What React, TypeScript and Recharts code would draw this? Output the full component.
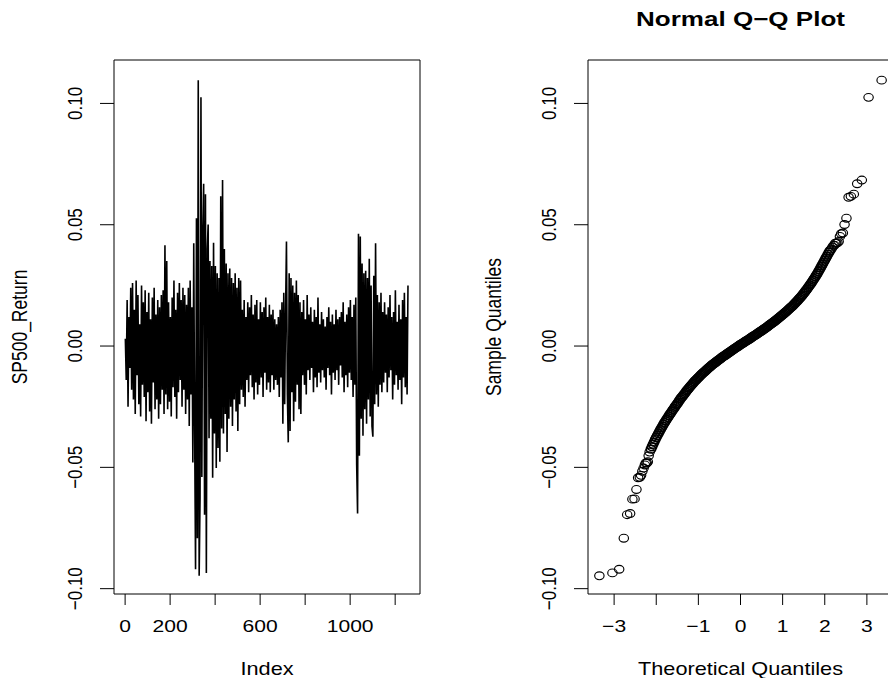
import React from 'react';
import {
  LineChart,
  Line,
  ScatterChart,
  Scatter,
  XAxis,
  YAxis,
  ReferenceArea,
} from 'recharts';

// R base graphics look: Helvetica-like text, slightly stretched horizontally
const FONT = '"Liberation Sans", Arial, Helvetica, sans-serif';
const STRETCH = 1.24;

// Daily SP500 log returns, one reading every 4th trading day (index 1, 5, 9, ...)
const RETURN_STEP = 4;
const returns = [
  0.003, -0.014, 0.019, -0.025, 0.012, -0.009, 0.024, -0.018, 0.026, -0.022,
  0.015, -0.028, 0.027, -0.012, 0.021, -0.024, 0.009, -0.029, 0.025, -0.016,
  0.018, -0.021, 0.023, -0.031, 0.014, -0.019, 0.022, -0.027, 0.011, -0.032,
  0.020, -0.015, 0.024, -0.026, 0.013, -0.022, 0.019, -0.030, 0.016, -0.024,
  0.021, -0.018, 0.023, -0.028, 0.0415, -0.020, 0.035, -0.026, 0.018, -0.023,
  0.012, -0.029, 0.020, -0.017, 0.027, -0.021, 0.015, -0.030, 0.022, -0.019,
  0.026, -0.014, 0.019, -0.025, 0.024, -0.018, 0.021, -0.028, 0.017, -0.022,
  0.024, -0.033, 0.027, -0.020, 0.016, -0.048, 0.0424, -0.035, -0.0920, 0.0527,
  -0.0792, 0.1096, -0.0947, -0.0630, 0.1025, -0.054, 0.047, 0.0669, -0.0695, 0.0626,
  -0.0935, 0.040, 0.0501, -0.038, 0.035, -0.030, 0.033, -0.0543, 0.0426, -0.036,
  0.033, -0.0503, 0.030, -0.042, 0.028, -0.0477, 0.0617, -0.034, 0.0684, -0.036,
  0.040, -0.028, 0.034, -0.0437, 0.030, -0.030, 0.032, -0.025, 0.028, -0.033,
  0.026, -0.022, 0.030, -0.027, 0.024, -0.035, 0.028, -0.024, 0.027, -0.018,
  0.015, -0.021, 0.019, -0.025, 0.012, -0.014, 0.018, -0.019, 0.016, -0.012,
  0.021, -0.017, 0.013, -0.022, 0.017, -0.015, 0.019, -0.020, 0.011, -0.016,
  0.018, -0.013, 0.014, -0.021, 0.016, -0.011, 0.020, -0.018, 0.012, -0.015,
  0.017, -0.019, 0.013, -0.012, 0.015, -0.018, 0.011, -0.014, 0.009, -0.016,
  0.012, -0.021, 0.015, -0.013, 0.018, -0.032, 0.022, -0.024, 0.014, 0.0431,
  -0.020, -0.0397, 0.030, -0.035, 0.028, -0.019, 0.025, -0.031, 0.022, -0.023,
  0.027, -0.016, 0.021, -0.026, 0.018, -0.028, 0.014, -0.012, 0.019, -0.016,
  0.011, -0.020, 0.021, -0.010, 0.013, -0.014, 0.016, -0.009, 0.010, -0.019,
  0.015, -0.013, 0.012, -0.017, 0.020, -0.011, 0.009, -0.015, 0.014, -0.010,
  0.011, -0.013, 0.008, -0.018, 0.012, -0.009, 0.016, -0.012, 0.010, -0.020,
  0.013, -0.011, 0.009, -0.014, 0.015, -0.010, 0.011, -0.016, 0.012, -0.008,
  0.014, -0.013, 0.018, -0.019, 0.010, -0.012, 0.013, -0.017, 0.016, -0.011,
  0.019, -0.014, 0.012, -0.021, 0.017, -0.016, 0.020, -0.049, -0.0690, 0.0463,
  -0.0452, 0.0452, -0.030, 0.034, -0.037, 0.030, -0.026, 0.031, -0.032, 0.028,
  -0.022, 0.036, -0.029, 0.025, -0.033, -0.0374, 0.029, -0.024, 0.0424, -0.020,
  0.021, -0.025, 0.018, -0.016, 0.022, -0.019, 0.014, -0.015, 0.018, -0.011,
  0.013, -0.019, 0.016, -0.013, 0.021, -0.010, 0.012, -0.022, 0.014, -0.016,
  0.023, -0.012, 0.010, -0.018, 0.017, -0.014, 0.011, -0.024, 0.019, -0.013,
  0.022, -0.017, 0.012, -0.020, 0.025,
];

const indexTicks = [0, 200, 400, 600, 800, 1000, 1200];
const indexLabels = [0, 200, 600, 1000];
const INDEX_DOMAIN: [number, number] = [-49.4, 1310.4];

const returnTicks = [-0.1, -0.05, 0, 0.05, 0.1];
const RETURN_DOMAIN: [number, number] = [-0.1022, 0.1179];

// Q-Q plot: tails point by point, dense middle read every 0.025 of a quantile
const qqLowerTheo = [
  -3.35, -3.04, -2.88, -2.77, -2.69, -2.62, -2.566, -2.515, -2.47, -2.43,
  -2.39, -2.36, -2.33, -2.30, -2.27, -2.248, -2.225, -2.20, -2.18, -2.157,
];
const qqLowerSample = [
  -0.0947, -0.0935, -0.0920, -0.0792, -0.0695, -0.0690, -0.0631, -0.0630, -0.0591, -0.0543,
  -0.0541, -0.0533, -0.0516, -0.0503, -0.0490, -0.0482, -0.0482, -0.0477, -0.0452, -0.0437,
];

const QQ_MID_START = -2.125;
const QQ_MID_STEP = 0.025;
const qqMidSample = [
  -0.0425, -0.0415, -0.0405, -0.0396, -0.0386, -0.0377, -0.0369, -0.0361, -0.0353, -0.0345,
  -0.0337, -0.0330, -0.0322, -0.0315, -0.0308, -0.0301, -0.0295, -0.0288, -0.0281, -0.0275,
  -0.0268, -0.0262, -0.0256, -0.0249, -0.0243, -0.0237, -0.0231, -0.0224, -0.0218, -0.0212,
  -0.0207, -0.0201, -0.0196, -0.0190, -0.0184, -0.0179, -0.0173, -0.0168, -0.0163, -0.0158,
  -0.0153, -0.0148, -0.0143, -0.0139, -0.0134, -0.0130, -0.0126, -0.0121, -0.0117, -0.0113,
  -0.0109, -0.0105, -0.0101, -0.0097, -0.0093, -0.0089, -0.0086, -0.0082, -0.0078, -0.0075,
  -0.0071, -0.0068, -0.0065, -0.0061, -0.0058, -0.0055, -0.0052, -0.0048, -0.0045, -0.0042,
  -0.0039, -0.0036, -0.0033, -0.0030, -0.0027, -0.0024, -0.0021, -0.0018, -0.0015, -0.0012,
  -0.0009, -0.0006, -0.0003, 0.0000, 0.0003, 0.0006, 0.0009, 0.0011, 0.0014, 0.0017,
  0.0020, 0.0022, 0.0025, 0.0028, 0.0031, 0.0034, 0.0037, 0.0040, 0.0043, 0.0045,
  0.0048, 0.0051, 0.0054, 0.0057, 0.0060, 0.0063, 0.0066, 0.0069, 0.0072, 0.0075,
  0.0078, 0.0081, 0.0085, 0.0088, 0.0091, 0.0094, 0.0098, 0.0101, 0.0104, 0.0108,
  0.0111, 0.0115, 0.0118, 0.0122, 0.0125, 0.0129, 0.0133, 0.0137, 0.0140, 0.0144,
  0.0148, 0.0152, 0.0156, 0.0160, 0.0164, 0.0168, 0.0173, 0.0177, 0.0182, 0.0186,
  0.0191, 0.0196, 0.0201, 0.0206, 0.0211, 0.0217, 0.0222, 0.0228, 0.0234, 0.0240,
  0.0246, 0.0252, 0.0258, 0.0265, 0.0272, 0.0278, 0.0285, 0.0292, 0.0299, 0.0307,
  0.0314, 0.0322, 0.0330, 0.0338, 0.0346, 0.0354, 0.0362, 0.0370, 0.0378, 0.0386,
  0.0393,
];

const qqUpperTheo = [
  2.157, 2.185, 2.21, 2.23, 2.248, 2.27, 2.30, 2.33, 2.36, 2.39,
  2.43, 2.47, 2.515, 2.566, 2.62, 2.69, 2.77, 2.88, 3.04, 3.35,
];
const qqUpperSample = [
  0.0400, 0.0408, 0.0415, 0.0416, 0.0424, 0.0424, 0.0426, 0.0431, 0.0452, 0.0463,
  0.0466, 0.0501, 0.0527, 0.0613, 0.0617, 0.0626, 0.0669, 0.0684, 0.1025, 0.1096,
];

const qqTicks = [-3, -2, -1, 0, 1, 2, 3];
const qqLabels = [-3, -1, 0, 1, 2, 3];
const QQ_DOMAIN: [number, number] = [-3.62, 3.62];

const seriesData = returns.map((r, k) => ({ index: 1 + k * RETURN_STEP, ret: r }));

const qqTails = [
  ...qqLowerTheo.map((q, i) => ({ q, v: qqLowerSample[i] })),
  ...qqUpperTheo.map((q, i) => ({ q, v: qqUpperSample[i] })),
];
const qqMiddle = qqMidSample.map((v, i) => ({ q: QQ_MID_START + i * QQ_MID_STEP, v }));

const minus = (s: string) => s.replace('-', '\u2212');
const fmtInt = (v: number) => minus(String(v));
const fmtReturn = (v: number) => minus(v.toFixed(2));

const tickLineStyle = { stroke: '#000', strokeWidth: 1 };

function BottomTick(props: any) {
  const { x, y, payload, shown } = props;
  if (!shown.includes(payload.value)) return <g />;
  return (
    <text
      transform={`translate(${x},${y + 27}) scale(${STRETCH},1)`}
      textAnchor="middle"
      fontFamily={FONT}
      fontSize={17}
      fill="#000"
    >
      {fmtInt(payload.value)}
    </text>
  );
}

function LeftTick(props: any) {
  const { x, y, payload } = props;
  return (
    <text
      transform={`translate(${x - 18},${y}) rotate(-90) scale(1,${STRETCH})`}
      textAnchor="middle"
      fontFamily={FONT}
      fontSize={17}
      fill="#000"
    >
      {fmtReturn(payload.value)}
    </text>
  );
}

// open circle, pch = 1
function Ring(props: any) {
  const { cx, cy, sw = 1.15 } = props;
  if (cx == null || cy == null) return <g />;
  return <ellipse cx={cx} cy={cy} rx={4.7} ry={3.9} fill="none" stroke="#000" strokeWidth={sw} />;
}

function HText({ x, y, text, size = 17.5, bold = false }: { x: number; y: number; text: string; size?: number; bold?: boolean }) {
  return (
    <text
      transform={`translate(${x},${y}) scale(${STRETCH},1)`}
      textAnchor="middle"
      fontFamily={FONT}
      fontSize={size}
      fontWeight={bold ? 'bold' : 'normal'}
      fill="#000"
    >
      {text}
    </text>
  );
}

function VText({ x, y, text }: { x: number; y: number; text: string }) {
  return (
    <text
      transform={`translate(${x},${y}) rotate(-90) scale(1,${STRETCH})`}
      textAnchor="middle"
      fontFamily={FONT}
      fontSize={17.5}
      fill="#000"
    >
      {text}
    </text>
  );
}

export default function App() {
  return (
    <div style={{ position: 'absolute', left: 0, top: 0, width: 888, height: 678, overflow: 'hidden', background: '#fff' }}>
      {/* time series panel */}
      <div style={{ position: 'absolute', left: 0, top: 0 }}>
        <LineChart width={440} height={678} data={seriesData} margin={{ top: 60, right: 20, bottom: 0, left: 0 }}>
          <XAxis
            type="number"
            dataKey="index"
            domain={INDEX_DOMAIN}
            allowDataOverflow
            ticks={indexTicks}
            interval={0}
            height={84}
            tickSize={11}
            tickMargin={0}
            axisLine={false}
            tickLine={tickLineStyle}
            tick={(p: any) => <BottomTick {...p} shown={indexLabels} />}
          />
          <YAxis
            type="number"
            domain={RETURN_DOMAIN}
            allowDataOverflow
            ticks={returnTicks}
            interval={0}
            width={114}
            tickSize={14}
            tickMargin={0}
            axisLine={false}
            tickLine={tickLineStyle}
            tick={(p: any) => <LeftTick {...p} />}
          />
          <ReferenceArea
            x1={INDEX_DOMAIN[0]}
            x2={INDEX_DOMAIN[1]}
            y1={RETURN_DOMAIN[0]}
            y2={RETURN_DOMAIN[1]}
            fill="none"
            fillOpacity={0}
            stroke="#000"
            strokeWidth={1}
            ifOverflow="visible"
          />
          <Line
            type="linear"
            dataKey="ret"
            stroke="#000"
            strokeWidth={1.6}
            strokeLinejoin="miter"
            dot={false}
            activeDot={false}
            isAnimationActive={false}
          />
        </LineChart>
      </div>

      {/* normal Q-Q panel */}
      <div style={{ position: 'absolute', left: 440, top: 0 }}>
        <ScatterChart width={500} height={678} margin={{ top: 60, right: 47, bottom: 0, left: 0 }}>
          <XAxis
            type="number"
            dataKey="q"
            domain={QQ_DOMAIN}
            allowDataOverflow
            ticks={qqTicks}
            interval={0}
            height={84}
            tickSize={11}
            tickMargin={0}
            axisLine={false}
            tickLine={tickLineStyle}
            tick={(p: any) => <BottomTick {...p} shown={qqLabels} />}
          />
          <YAxis
            type="number"
            dataKey="v"
            domain={RETURN_DOMAIN}
            allowDataOverflow
            ticks={returnTicks}
            interval={0}
            width={148}
            tickSize={14}
            tickMargin={0}
            axisLine={false}
            tickLine={tickLineStyle}
            tick={(p: any) => <LeftTick {...p} />}
          />
          <ReferenceArea
            x1={QQ_DOMAIN[0]}
            x2={QQ_DOMAIN[1]}
            y1={RETURN_DOMAIN[0]}
            y2={RETURN_DOMAIN[1]}
            fill="none"
            fillOpacity={0}
            stroke="#000"
            strokeWidth={1}
            ifOverflow="visible"
          />
          <Scatter data={qqTails} shape={(p: any) => <Ring {...p} />} isAnimationActive={false} />
          <Scatter data={qqMiddle} shape={(p: any) => <Ring {...p} sw={1.6} />} isAnimationActive={false} />
        </ScatterChart>
      </div>

      {/* titles */}
      <svg width={888} height={678} style={{ position: 'absolute', left: 0, top: 0, pointerEvents: 'none' }}>
        <VText x={27} y={327} text="SP500_Return" />
        <HText x={267} y={675} text="Index" />
        <VText x={501} y={327} text="Sample Quantiles" />
        <HText x={740.5} y={675} text="Theoretical Quantiles" />
        <HText x={740.5} y={26} text={'Normal Q\u2212Q Plot'} size={21} bold />
      </svg>
    </div>
  );
}
